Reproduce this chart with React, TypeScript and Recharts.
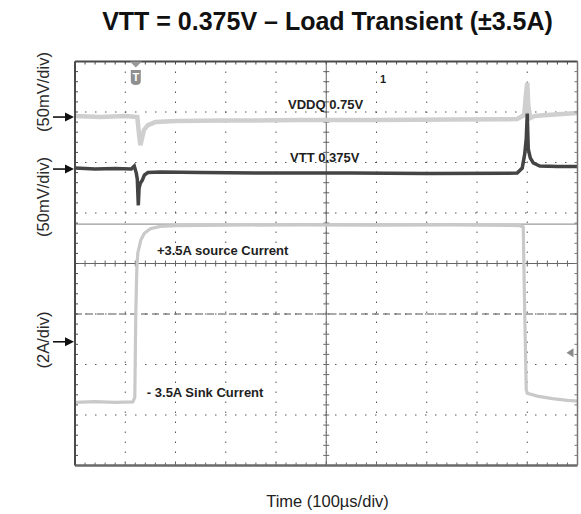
import { CartesianGrid, Line, LineChart, ReferenceDot, ReferenceLine, XAxis, YAxis } from "recharts";

const FONT = '"Liberation Sans", Arial, Helvetica, sans-serif';

// time axis: 100µs/div, 10 div
const timeTicks = [0, 100, 200, 300, 400, 500, 600, 700, 800, 900, 1000];
// graticule rows
const divTicks = [0, 1, 2, 3, 4, 5, 6, 7, 8];

// VDDQ channel (V), 50mV/div
const vddqTime = [0, 50, 100, 124, 127, 130, 133, 137, 145, 160, 200, 300, 450, 600, 750, 880, 894, 897, 900, 902, 906, 915, 940, 1000];
const vddqVolts = [0.751, 0.75, 0.751, 0.75, 0.735, 0.722, 0.728, 0.737, 0.742, 0.745, 0.746, 0.7465, 0.747, 0.747, 0.7475, 0.748, 0.752, 0.771, 0.784, 0.762, 0.749, 0.751, 0.752, 0.754];

// VTT channel (V), 50mV/div
const vttTime = [0, 40, 80, 112, 118, 122, 124, 126, 127.5, 130, 134, 138, 145, 170, 250, 400, 550, 700, 880, 890, 895, 898, 900, 902, 906, 912, 925, 960, 1000];
const vttVolts = [0.376, 0.375, 0.3755, 0.375, 0.378, 0.371, 0.365, 0.339, 0.356, 0.361, 0.364, 0.369, 0.3715, 0.372, 0.3715, 0.371, 0.371, 0.3705, 0.371, 0.376, 0.39, 0.405, 0.43, 0.395, 0.386, 0.381, 0.378, 0.3775, 0.3775];

// load current (A), 2A/div
const loadTime = [0, 40, 80, 115, 119, 121, 123, 125, 131, 138, 150, 170, 200, 300, 450, 600, 750, 885, 892, 895, 898, 900, 920, 950, 980, 1000];
const loadAmps = [-3.5, -3.47, -3.5, -3.48, -3.3, 0, 1.8, 2.42, 2.93, 3.2, 3.38, 3.47, 3.5, 3.52, 3.53, 3.52, 3.53, 3.5, 3.45, 0, -3.0, -3.14, -3.25, -3.35, -3.42, -3.45];

const vddqData = vddqTime.map((t, i) => ({ t, v: vddqVolts[i] }));
const vttData = vttTime.map((t, i) => ({ t, v: vttVolts[i] }));
const loadData = loadTime.map((t, i) => ({ t, a: loadAmps[i] }));

// line with small graticule ticks (5 per division)
const ticked = (n: number, inner: number, outer: number) => (p: any) => {
  const { x1, y1, x2, y2 } = p;
  const horiz = Math.abs(x2 - x1) > Math.abs(y2 - y1);
  const marks = [];
  for (let i = 1; i < n; i++) {
    const x = x1 + ((x2 - x1) * i) / n;
    const y = y1 + ((y2 - y1) * i) / n;
    marks.push(
      horiz ? (
        <line key={i} x1={x} x2={x} y1={y - outer} y2={y + inner} />
      ) : (
        <line key={i} x1={x - outer} x2={x + inner} y1={y} y2={y} />
      )
    );
  }
  return (
    <g stroke={p.stroke} strokeWidth={p.strokeWidth}>
      <line x1={x1} y1={y1} x2={x2} y2={y2} />
      <g strokeWidth={1}>{marks}</g>
    </g>
  );
};

const tag = (text: string, size = 13) => (p: any) => (
  <text x={p.cx} y={p.cy} fontFamily={FONT} fontSize={size} fontWeight="bold" fill="#1e1e1e" dominantBaseline="central">
    {text}
  </text>
);

const refArrow = (p: any) => (
  <g>
    <line x1={p.cx - 22} x2={p.cx - 8} y1={p.cy} y2={p.cy} stroke="#111" strokeWidth={1.6} />
    <polygon points={`${p.cx - 10},${p.cy - 4.5} ${p.cx - 1},${p.cy} ${p.cx - 10},${p.cy + 4.5}`} fill="#111" />
  </g>
);

const trigBadge = (p: any) => (
  <g>
    <polygon points={`${p.cx - 6},${p.cy} ${p.cx + 6},${p.cy} ${p.cx},${p.cy + 6}`} fill="#999" />
    <path d={`M${p.cx - 5},${p.cy + 8.5} h10 v11 q0,4 -5,4 q-5,0 -5,-4 z`} fill="#8f8f8f" />
    <text x={p.cx} y={p.cy + 19.5} textAnchor="middle" fontFamily={FONT} fontSize={11} fontWeight="bold" fill="#fff">
      T
    </text>
  </g>
);

const trigLevel = (p: any) => (
  <polygon points={`${p.cx - 11},${p.cy} ${p.cx - 4},${p.cy - 4.5} ${p.cx - 4},${p.cy + 4.5}`} fill="#8a8a8a" />
);

export default function App() {
  return (
    <div style={{ position: "absolute", left: 0, top: 0, width: 581, height: 514, background: "#fff" }}>
      <svg width={581} height={514} style={{ position: "absolute", left: 0, top: 0 }} fontFamily={FONT}>
        <text x={327.5} y={30} textAnchor="middle" fontSize={25} fontWeight="bold" fill="#111">
          VTT = 0.375V – Load Transient (±3.5A)
        </text>
        <text transform="translate(42.5,92) rotate(-90)" textAnchor="middle" dominantBaseline="central" fontSize={16.5} fill="#2a2a2a">
          (50mV/div)
        </text>
        <text transform="translate(42.5,197) rotate(-90)" textAnchor="middle" dominantBaseline="central" fontSize={16.5} fill="#2a2a2a">
          (50mV/div)
        </text>
        <text transform="translate(42.5,340) rotate(-90)" textAnchor="middle" dominantBaseline="central" fontSize={16.5} fill="#2a2a2a">
          (2A/div)
        </text>
        <text x={327.5} y={506.5} textAnchor="middle" fontSize={16.5} fill="#222">
          Time (100µs/div)
        </text>
      </svg>
      <div style={{ position: "absolute", left: 0, top: 0 }}>
        <LineChart width={581} height={514} margin={{ top: 61.5, right: 3.5, bottom: 48.5, left: 75 }}>
          <XAxis dataKey="t" type="number" domain={[0, 1000]} ticks={timeTicks} allowDataOverflow hide />
          <YAxis type="number" domain={[0, 8]} ticks={divTicks} allowDataOverflow hide />
          <YAxis yAxisId="vddq" type="number" domain={[0.405, 0.805]} allowDataOverflow hide />
          <YAxis yAxisId="vtt" type="number" domain={[0.0815, 0.4815]} allowDataOverflow hide />
          <YAxis yAxisId="amp" type="number" domain={[-6, 10]} allowDataOverflow hide />
          <CartesianGrid stroke="#555" strokeDasharray="1.5 8.5" />

          <ReferenceLine yAxisId="amp" y={0} stroke="#555" strokeDasharray="7 4" />
          <ReferenceLine yAxisId="amp" y={3.56} stroke="#9a9a9a" strokeWidth={1.3} />
          <ReferenceLine x={500} stroke="#666" strokeWidth={1} strokeDasharray="2 2" shape={ticked(40, 3, 3)} />
          <ReferenceLine y={4} stroke="#666" strokeWidth={1} strokeDasharray="2 2" shape={ticked(50, 3, 3)} />

          <Line data={loadData} yAxisId="amp" dataKey="a" type="linear" stroke="#c9c9c9" strokeWidth={3.2} dot={false} isAnimationActive={false} />
          <Line data={vddqData} yAxisId="vddq" dataKey="v" type="linear" stroke="#cfcfcf" strokeWidth={4.5} dot={false} isAnimationActive={false} />
          <Line data={vttData} yAxisId="vtt" dataKey="v" type="linear" stroke="#444" strokeWidth={3.5} dot={false} isAnimationActive={false} />

          <ReferenceLine y={8} stroke="#4a4a4a" strokeWidth={2} shape={ticked(50, 3, 0)} />
          <ReferenceLine y={0} stroke="#6a6a6a" strokeWidth={2.5} shape={ticked(50, 0, 3)} />
          <ReferenceLine x={0} stroke="#4a4a4a" strokeWidth={2} shape={ticked(40, 3, 0)} />
          <ReferenceLine x={1000} stroke="#777" strokeWidth={1.5} shape={ticked(40, 0, 3)} />

          <ReferenceDot x={0} y={0.75} yAxisId="vddq" r={0} shape={refArrow} />
          <ReferenceDot x={0} y={0.375} yAxisId="vtt" r={0} shape={refArrow} />
          <ReferenceDot x={0} y={-1.1} yAxisId="amp" r={0} shape={refArrow} />
          <ReferenceDot x={1000} y={-1.53} yAxisId="amp" r={0} shape={trigLevel} />
          <ReferenceDot x={121} y={0.805} yAxisId="vddq" r={0} shape={trigBadge} />
          <ReferenceDot x={607} y={0.788} yAxisId="vddq" r={0} shape={tag("1", 11)} />

          <ReferenceDot x={424} y={0.762} yAxisId="vddq" r={0} shape={tag("VDDQ 0.75V")} />
          <ReferenceDot x={428} y={0.386} yAxisId="vtt" r={0} shape={tag("VTT 0.375V")} />
          <ReferenceDot x={163} y={2.53} yAxisId="amp" r={0} shape={tag("+3.5A source Current")} />
          <ReferenceDot x={143} y={-3.12} yAxisId="amp" r={0} shape={tag("- 3.5A Sink Current")} />
        </LineChart>
      </div>
    </div>
  );
}
